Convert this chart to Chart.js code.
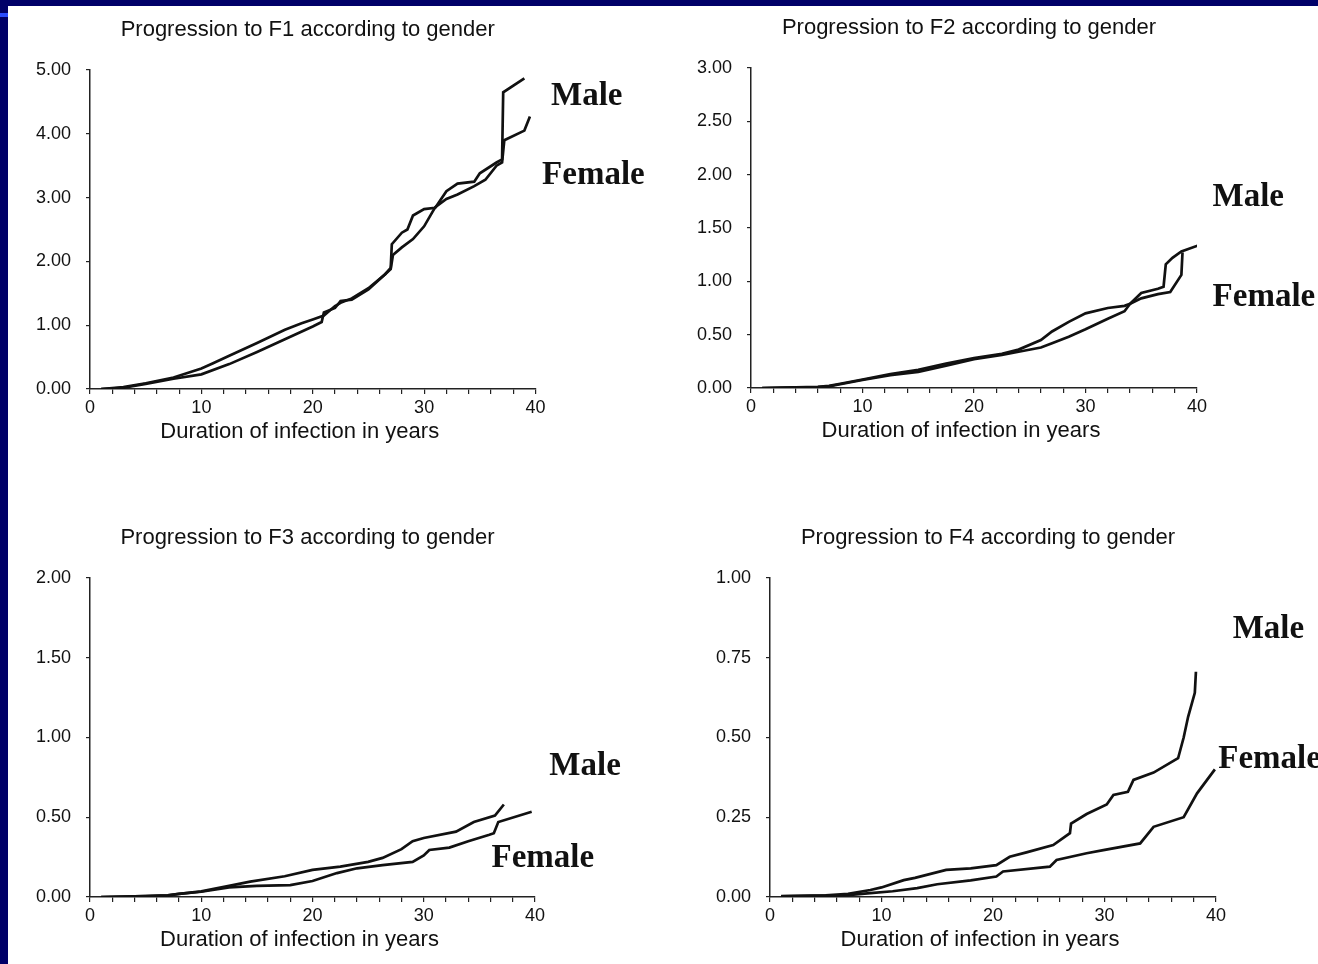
<!DOCTYPE html>
<html>
<head>
<meta charset="utf-8">
<script src="https://cdn.jsdelivr.net/npm/chart.js@4.4.1/dist/chart.umd.min.js"></script>
<style>
  html, body { margin: 0; padding: 0; }
  body { width: 1318px; height: 964px; background: #fff; position: relative; overflow: hidden; }
  .panel { position: absolute; width: 659px; height: 482px; }
  .bar-top { position: absolute; left: 0; top: 0; width: 1318px; height: 6px; background: #000068; z-index: 2; }
  .bar-left { position: absolute; left: 0; top: 0; width: 8px; height: 964px; background: #000068; z-index: 2; }
  .mark { position: absolute; left: 0; top: 13px; width: 8px; height: 4px; background: #2a4cff; z-index: 3; }
</style>
</head>
<body>
<div class="panel" style="left:0;top:0"><canvas id="f1"></canvas></div>
<div class="panel" style="left:659px;top:0"><canvas id="f2"></canvas></div>
<div class="panel" style="left:0;top:482px"><canvas id="f3"></canvas></div>
<div class="panel" style="left:659px;top:482px"><canvas id="f4"></canvas></div>
<div class="bar-top"></div><div class="bar-left"></div><div class="mark"></div>
<script>
// [years, cumulative progression]
const f1Male = [[1,0],[3,0.03],[5,0.09],[7.5,0.18],[10,0.32],[11,0.40],[12.5,0.52],[15,0.72],[17.5,0.93],[19,1.03],[20,1.09],[21,1.15],[22,1.30],[22.5,1.35],[23.5,1.42],[25,1.58],[26.5,1.80],[27,1.90],[27.1,2.27],[28,2.45],[28.5,2.50],[29,2.72],[30,2.82],[31,2.84],[32,3.10],[33,3.22],[34.5,3.25],[35,3.38],[36.5,3.55],[37,3.60],[37.1,4.65],[39,4.87]];
const f1Female = [[1,0],[3,0.02],[5,0.08],[7.5,0.16],[10,0.23],[12.5,0.39],[15,0.58],[17.5,0.78],[20,0.98],[20.8,1.05],[21,1.20],[22,1.27],[22.5,1.38],[23.5,1.40],[25,1.56],[26.5,1.80],[27,1.88],[27.2,2.10],[28,2.22],[29,2.35],[30,2.55],[31,2.85],[32,2.98],[33,3.05],[34.5,3.18],[35.5,3.28],[36.5,3.50],[37,3.55],[37.2,3.90],[39,4.05],[39.5,4.27]];

const f2Male = [[1,0],[4,0.005],[6,0.01],[7,0.02],[8,0.04],[10,0.08],[12.5,0.13],[15,0.17],[17.5,0.23],[20,0.28],[22.5,0.32],[24,0.36],[26,0.45],[27,0.53],[28.5,0.62],[30,0.70],[32,0.75],[33.5,0.77],[34,0.79],[35,0.89],[36.5,0.93],[37,0.95],[37.2,1.16],[37.8,1.22],[38.6,1.28],[40.2,1.34]];
const f2Female = [[1,0],[4,0.005],[6,0.008],[7,0.015],[8,0.035],[10,0.075],[12.5,0.12],[15,0.15],[17.5,0.21],[20,0.27],[22.5,0.31],[24,0.34],[26,0.38],[27,0.42],[28.5,0.48],[30,0.55],[32,0.65],[33.5,0.72],[34,0.79],[35,0.84],[36.5,0.88],[37.6,0.90],[38.6,1.06],[38.7,1.27]];

const f3Male = [[1,0],[5,0.005],[7,0.01],[8,0.02],[10,0.035],[12.5,0.07],[14.4,0.096],[17.5,0.13],[20,0.17],[22.5,0.19],[25,0.22],[26.3,0.245],[28,0.30],[29,0.35],[30,0.37],[32.9,0.41],[34.5,0.47],[36.4,0.51],[37.2,0.58]];
const f3Female = [[1,0],[5,0.005],[7,0.01],[8,0.02],[10,0.033],[12.5,0.06],[15,0.07],[18,0.075],[20,0.10],[22.2,0.15],[24,0.18],[26.3,0.20],[29,0.22],[30,0.26],[30.5,0.295],[32.3,0.31],[34,0.35],[35.9,0.39],[36.3,0.40],[36.7,0.47],[39.7,0.535]];

const f4Male = [[1,0.003],[5,0.005],[7,0.01],[9,0.022],[10,0.03],[12,0.053],[13,0.06],[15.8,0.085],[18,0.09],[20.3,0.10],[21.5,0.126],[23,0.14],[25.4,0.163],[26.9,0.20],[27,0.23],[28.4,0.26],[30.2,0.29],[30.8,0.32],[32.1,0.33],[32.6,0.367],[34.4,0.39],[36.6,0.435],[37.1,0.50],[37.5,0.565],[38.1,0.64],[38.2,0.706]];
const f4Female = [[1,0.002],[5,0.004],[7,0.006],[9,0.012],[11,0.018],[13.2,0.028],[15,0.04],[18,0.052],[20.3,0.064],[20.9,0.08],[25.1,0.095],[25.7,0.116],[28.4,0.137],[29.9,0.147],[33.2,0.168],[34.4,0.22],[37.1,0.25],[38.3,0.325],[39.9,0.40]];

const xTicks = [0, 10, 20, 30, 40];
const xTitle = 'Duration of infection in years';

const toPts = arr => arr.map(p => ({x: p[0], y: p[1]}));

// draws panel title, axis title and the Male / Female labels
const panelText = {
  id: 'panelText',
  afterDraw(chart, args, opts) {
    const {ctx, chartArea: a, scales} = chart;
    const mid = (a.left + a.right) / 2;
    ctx.save();
    ctx.fillStyle = '#111';
    ctx.textBaseline = 'middle';
    ctx.textAlign = 'center';
    ctx.font = '22px "Liberation Sans", Arial, sans-serif';
    ctx.fillText(opts.title, mid - 5, a.top - 40);
    ctx.fillText(xTitle, mid - 13, a.bottom + 43);
    ctx.font = 'bold 33px "Liberation Serif", "Times New Roman", serif';
    opts.labels.forEach(l => {
      ctx.textAlign = l.align || 'center';
      ctx.fillText(l.text, scales.x.getPixelForValue(l.x), scales.y.getPixelForValue(l.y));
    });
    ctx.restore();
  }
};

function makeChart(id, opt) {
  const line = data => ({
    data: toPts(data),
    borderColor: '#111',
    borderWidth: 2.7,
    pointRadius: 0,
    tension: 0,
    fill: false
  });
  return new Chart(document.getElementById(id), {
    type: 'line',
    data: { datasets: [line(opt.male), line(opt.female)] },
    options: {
      responsive: true,
      maintainAspectRatio: false,
      animation: false,
      layout: { padding: opt.pad },
      plugins: {
        legend: { display: false },
        tooltip: { enabled: false },
        panelText: { title: opt.title, labels: opt.labels }
      },
      scales: {
        x: {
          type: 'linear',
          min: 0, max: 40,
          afterFit: s => { s.height = 50 },
          grid: { drawOnChartArea: false, tickLength: 5, color: '#222', lineWidth: 1.2 },
          border: { color: '#222', width: 1.5 },
          ticks: {
            stepSize: 2, autoSkip: false, maxRotation: 0, padding: 3,
            color: '#111', font: { family: '"Liberation Sans", Arial', size: 18 },
            callback: v => xTicks.includes(v) ? String(v) : ''
          }
        },
        y: {
          min: 0, max: opt.yMax,
          afterFit: s => { s.width = 80 },
          grid: { drawOnChartArea: false, tickLength: 4, color: '#222', lineWidth: 1.2 },
          border: { color: '#222', width: 1.5 },
          ticks: {
            stepSize: opt.yStep, padding: 15,
            color: '#111', font: { family: '"Liberation Sans", Arial', size: 18 },
            callback: v => v.toFixed(2)
          }
        }
      }
    },
    plugins: [panelText]
  });
}

makeChart('f1', {
  title: 'Progression to F1 according to gender',
  male: f1Male, female: f1Female, yMax: 5, yStep: 1,
  pad: { left: 10, top: 70, right: 123.5, bottom: 43 },
  labels: [{ text: 'Male', x: 44.6, y: 4.58 }, { text: 'Female', x: 45.2, y: 3.34 }]
});
makeChart('f2', {
  title: 'Progression to F2 according to gender',
  male: f2Male, female: f2Female, yMax: 3, yStep: 0.5,
  pad: { left: 12, top: 68, right: 121, bottom: 44 },
  labels: [{ text: 'Male', x: 44.6, y: 1.79 }, { text: 'Female', x: 46.0, y: 0.85 }]
});
makeChart('f3', {
  title: 'Progression to F3 according to gender',
  male: f3Male, female: f3Female, yMax: 2, yStep: 0.5,
  pad: { left: 10, top: 96, right: 124, bottom: 17 },
  labels: [{ text: 'Male', x: 44.5, y: 0.82 }, { text: 'Female', x: 40.7, y: 0.24 }]
});
makeChart('f4', {
  title: 'Progression to F4 according to gender',
  male: f4Male, female: f4Female, yMax: 1, yStep: 0.25,
  pad: { left: 31, top: 96, right: 102, bottom: 17 },
  labels: [{ text: 'Male', x: 44.7, y: 0.84 }, { text: 'Female', x: 40.2, y: 0.43, align: 'left' }]
});
</script>
</body>
</html>
